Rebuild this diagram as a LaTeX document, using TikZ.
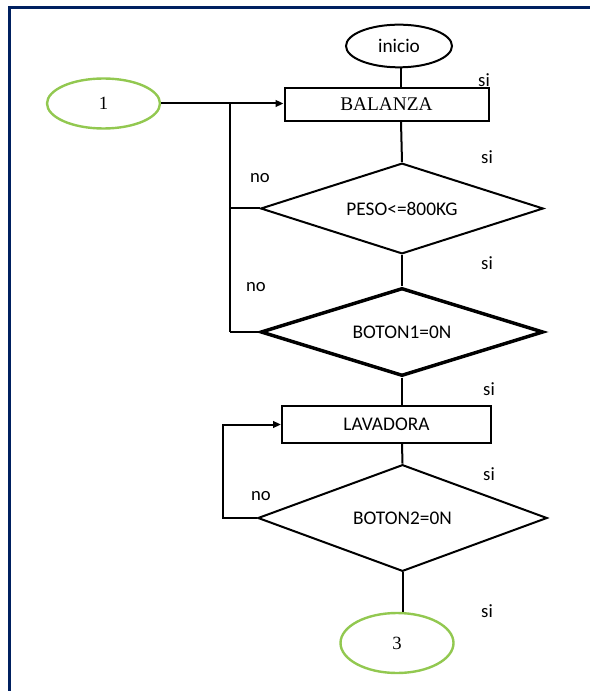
\documentclass[tikz,border=0pt]{standalone}
\usepackage{fontspec}
\setmainfont{Liberation Serif}
\newfontfamily\flowsans{Carlito}
\usetikzlibrary{shapes.geometric,arrows.meta}
\definecolor{framenavy}{RGB}{0,32,96}
\definecolor{termgreen}{RGB}{146,200,80}
\tikzset{
  flowline/.style={line width=1.5pt,black},
  arrowline/.style={flowline,-{Triangle[length=6pt,width=5pt]}},
  procbox/.style={draw,line width=1.5pt,rectangle,inner sep=0pt,
    font=\fontsize{14.5}{17}\selectfont},
  decision/.style={draw,line width=1.5pt,diamond,inner sep=0pt,aspect=3.1,
    font=\flowsans\fontsize{14.5}{17}\selectfont},
  terminal/.style={draw,line width=1.5pt,ellipse,inner sep=0pt,
    font=\flowsans\fontsize{14.5}{17}\selectfont},
  connector/.style={draw=termgreen,line width=1.8pt,ellipse,inner sep=0pt,
    font=\fontsize{14}{17}\selectfont},
  lbl/.style={inner sep=0pt,font=\flowsans\fontsize{14}{17}\selectfont},
}
\begin{document}
\begin{tikzpicture}[x=0.75pt,y=-0.75pt]
\useasboundingbox (0,0) rectangle (590,691);

% page frame
\draw[framenavy,line width=2.25pt] (9.5,691) -- (9.5,7.5) -- (590,7.5);

% nodes
\node[terminal,minimum width=79.5pt,minimum height=32pt] (inicio) at (399,46) {inicio};
\node[procbox,minimum width=153pt,minimum height=24.75pt] (bal) at (386.5,104.5) {BALANZA};
\node[connector,minimum width=84.75pt,minimum height=37.5pt] (c1) at (103.5,103.5) {1};
\node[decision,minimum width=212pt,minimum height=68pt] (d1) at (402,208.5) {PESO<=800KG};
\node[decision,line width=2.6pt,minimum width=212pt,minimum height=66pt] (d2) at (402,332) {BOTON1=0N};
\node[procbox,font=\flowsans\fontsize{14.5}{17}\selectfont,minimum width=156.75pt,minimum height=27.75pt] (lav) at (386.5,424.5) {LAVADORA};
\node[decision,aspect=2.7,minimum width=217pt,minimum height=80pt] (d3) at (402.5,518) {BOTON2=0N};
\node[connector,minimum width=84.75pt,minimum height=45pt] (c3) at (397,643) {3};

% branch labels
\node[lbl] (s1) at (484,80) {si};
\node[lbl] (s2) at (487,157) {si};
\node[lbl] (s3) at (487,263) {si};
\node[lbl] (s4) at (489,389) {si};
\node[lbl] (s5) at (489,474) {si};
\node[lbl] (s6) at (487,611) {si};
\node[lbl] (n1) at (260,178) {no};
\node[lbl] (n2) at (256,287) {no};
\node[lbl] (n3) at (261,496) {no};

% main flow
\coordinate (spine) at (401,0);
\draw[flowline] (inicio.south -| spine) -- (spine |- bal.north);
\draw[flowline] (spine |- bal.south) -- (d1.north);
\draw[flowline] (d1.south) -- (d2.north);
\draw[flowline] (d2.south) -- (d2.south |- lav.north);
\draw[flowline] (d2.south |- lav.south) -- (d3.north);
\draw[flowline] (d3.south) -- (d3.south |- c3.north);

% entry from connector 1 and the "no" return path
\coordinate (jx) at (229.5,0);
\draw[arrowline] (c1.east) -- (c1.east -| bal.west);
\draw[flowline] (jx |- c1.east) -- (jx |- d2.west);
\draw[flowline] (d1.west) -- (jx |- d1.west);
\draw[flowline] (d2.west) -- (jx |- d2.west);

% washer loop
\coordinate (lx) at (223,0);
\draw[arrowline] (d3.west) -- (lx |- d3.west) |- (lav.west);
\end{tikzpicture}
\end{document}
